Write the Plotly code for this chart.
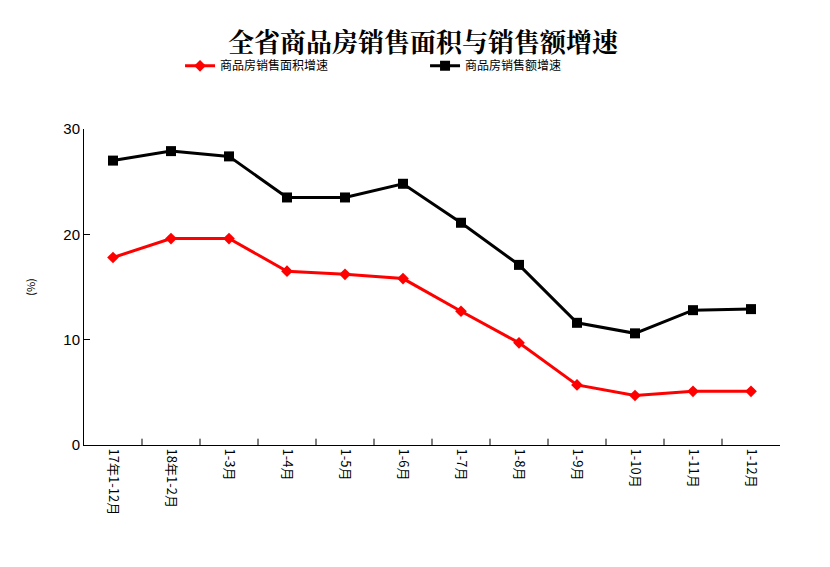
import plotly.graph_objects as go

categories = ["17年1-12月","18年1-2月","1-3月","1-4月","1-5月","1-6月","1-7月","1-8月","1-9月","1-10月","1-11月","1-12月"]
area_growth = [17.8,19.6,19.6,16.5,16.2,15.8,12.7,9.7,5.7,4.7,5.1,5.1]
sales_growth = [27.0,27.9,27.4,23.5,23.5,24.8,21.1,17.1,11.6,10.6,12.8,12.9]
y_ticks = [0,10,20,30]

x = list(range(len(categories)))
fig = go.Figure()
fig.add_trace(go.Scatter(x=x, y=area_growth, name="商品房销售面积增速", mode="lines+markers",
    line=dict(color="#ff0000", width=3), marker=dict(symbol="diamond", size=9, color="#ff0000")))
fig.add_trace(go.Scatter(x=x, y=sales_growth, name="商品房销售额增速", mode="lines+markers",
    line=dict(color="#000000", width=3), marker=dict(symbol="square", size=10, color="#000000")))

for i in range(1, len(categories)):
    fig.add_shape(type="line", xref="x", yref="paper", x0=i-0.5, x1=i-0.5, y0=0, y1=0.02,
                  line=dict(color="black", width=1))

fig.update_layout(
    width=830, height=567, plot_bgcolor="white", paper_bgcolor="white",
    margin=dict(l=76, r=58, t=121, b=130),
    font=dict(family="Noto Sans CJK SC", size=12, color="black"),
    title=dict(text="<b>全省商品房销售面积与销售额增速</b>", x=0.5, y=0.955, xanchor="center",
               font=dict(family="Noto Serif CJK SC, Noto Sans CJK SC", size=26)),
    legend=dict(orientation="h", x=0.49, xanchor="center", y=1.2, yanchor="middle",
                font=dict(size=12), entrywidth=200, entrywidthmode="pixels"),
    showlegend=True,
)
fig.update_xaxes(range=[-0.5, len(categories)-0.5], tickmode="array", tickvals=x, ticktext=categories,
                 tickangle=90, showline=True, linecolor="black", ticks="", showgrid=False,
                 zeroline=False, tickfont=dict(size=13))
fig.update_yaxes(range=[0, 30], tickvals=y_ticks, ticks="inside", ticklen=6, tickcolor="black",
                 showline=True, linecolor="black", showgrid=False, zeroline=False,
                 tickfont=dict(size=15, family="Liberation Sans"),
                 title=dict(text="(%)", font=dict(size=11), standoff=25))
fig.write_html("out.html")
